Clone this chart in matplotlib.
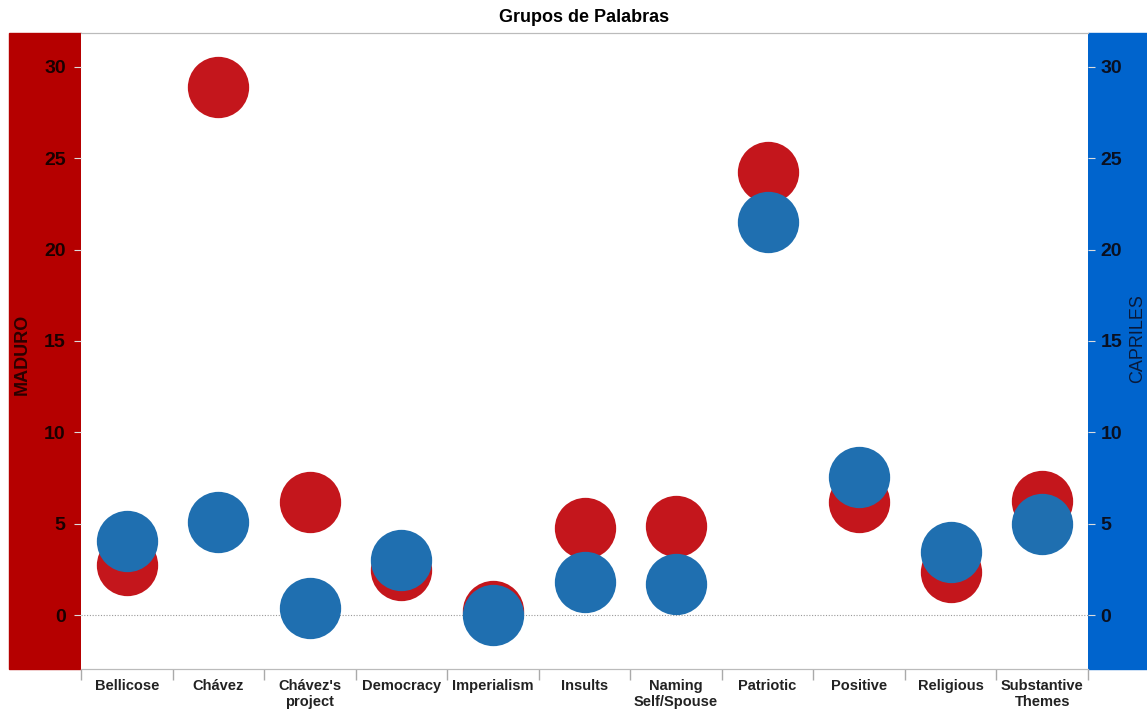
import matplotlib.pyplot as plt
from matplotlib.patches import Rectangle

categories = ["Bellicose", "Chávez", "Chávez's\nproject", "Democracy", "Imperialism",
              "Insults", "Naming\nSelf/Spouse", "Patriotic", "Positive", "Religious",
              "Substantive\nThemes"]
maduro = [2.75, 28.9, 6.2, 2.45, 0.25, 4.75, 4.9, 24.25, 6.2, 2.35, 6.25]
capriles = [4.05, 5.1, 0.4, 3.0, 0.0, 1.8, 1.7, 21.5, 7.55, 3.45, 5.0]
yticks = [0, 5, 10, 15, 20, 25, 30]

RED_BAND = "#B50000"
BLUE_BAND = "#0064CD"
RED_DOT = "#C4161C"
BLUE_DOT = "#1F6FB0"

W, H = 1147, 710
fig = plt.figure(figsize=(W / 100, H / 100), dpi=100)
plt.rcParams["font.family"] = ["Liberation Sans", "DejaVu Sans"]

left, right, top, bottom = 81, 1088, 33, 669
ax = fig.add_axes([left / W, 1 - bottom / H, (right - left) / W, (bottom - top) / H])
ax.set_zorder(1)

# coloured bands behind the y axes
fig.patches.append(Rectangle((9 / W, 1 - bottom / H), (left - 9) / W, (bottom - top) / H,
                             transform=fig.transFigure, color=RED_BAND, zorder=0))
fig.patches.append(Rectangle((right / W, 1 - bottom / H), (W - right) / W, (bottom - top) / H,
                             transform=fig.transFigure, color=BLUE_BAND, zorder=0))

x = list(range(len(categories)))
ax.axhline(0, color="#999999", linestyle=(0, (1, 1.5)), linewidth=0.8, zorder=1)
ax.scatter(x, maduro, s=1950, color=RED_DOT, linewidths=0, zorder=2)
ax.scatter(x, capriles, s=1950, color=BLUE_DOT, linewidths=0, zorder=3)

ax.set_xlim(-0.5, len(categories) - 0.5)
ax.set_ylim(-2.95, 31.85)
ax.set_yticks(yticks)
ax.set_yticklabels([str(t) for t in yticks], fontsize=14, fontweight="bold", color="#1a0000")
ax.tick_params(axis="y", length=5, color="#dddddd", pad=6)

ax.set_xticks(x)
ax.set_xticklabels(categories, fontsize=10.5, fontweight="bold", color="#222222",
                   linespacing=1.2, va="top")
ax.tick_params(axis="x", length=0, pad=7)
ax.set_xticks([i - 0.5 for i in range(len(categories) + 1)], minor=True)
ax.tick_params(axis="x", which="minor", length=8, color="#aaaaaa", width=1)

ax2 = ax.twinx()
ax2.set_zorder(2)
ax2.patch.set_visible(False)
ax2.set_ylim(ax.get_ylim())
ax2.set_yticks(yticks)
ax2.set_yticklabels([str(t) for t in yticks], fontsize=14, fontweight="bold", color="#0a1020")
ax2.tick_params(axis="y", length=5, color="#dddddd", pad=4)

for a in (ax, ax2):
    for side in ("left", "right"):
        a.spines[side].set_visible(False)
    a.spines["top"].set_color("#bbbbbb")
    a.spines["bottom"].set_color("#bbbbbb")

fig.text(22 / W, 1 - 354 / H, "MADURO", rotation=90, ha="center", va="center",
         fontsize=13, fontweight="bold", color="#2a0000")
fig.text(1138 / W, 1 - 339 / H, "CAPRILES", rotation=90, ha="center", va="center",
         fontsize=13, color="#0a1a3a")
fig.text(584 / W, 1 - 17 / H, "Grupos de Palabras", ha="center", va="center",
         fontsize=13, fontweight="bold")

fig.savefig("out.png", dpi=100)
